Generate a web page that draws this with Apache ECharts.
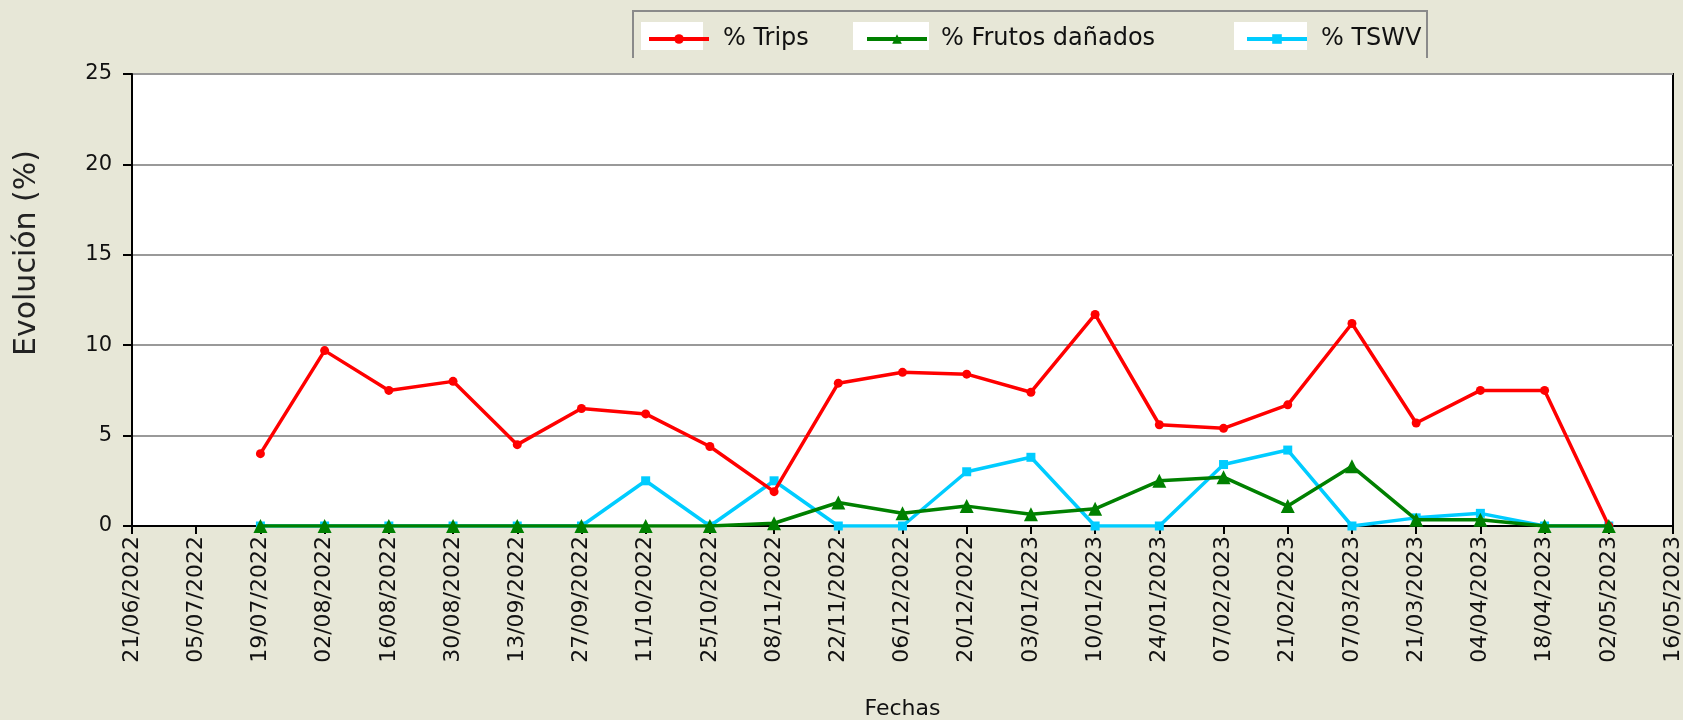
<!DOCTYPE html>
<html>
<head>
<meta charset="utf-8">
<script src="https://cdn.jsdelivr.net/npm/echarts@6/dist/echarts.min.js"></script>
<style>
html,body{margin:0;padding:0;background:#e7e7d7;}
#chart{width:1683px;height:720px;}
</style>
</head>
<body>
<div id="chart"></div>
<script>
const categories = ['21/06/2022','05/07/2022','19/07/2022','02/08/2022','16/08/2022','30/08/2022','13/09/2022','27/09/2022','11/10/2022','25/10/2022','08/11/2022','22/11/2022','06/12/2022','20/12/2022','03/01/2023','10/01/2023','24/01/2023','07/02/2023','21/02/2023','07/03/2023','21/03/2023','04/04/2023','18/04/2023','02/05/2023','16/05/2023'];
const trips = [null,null,4.0,9.7,7.5,8.0,4.5,6.5,6.2,4.4,1.9,7.9,8.5,8.4,7.4,11.7,5.6,5.4,6.7,11.2,5.7,7.5,7.5,0,null];
const frutos = [null,null,0,0,0,0,0,0,0,0,0.15,1.3,0.7,1.1,0.65,0.95,2.5,2.7,1.1,3.3,0.35,0.35,0,0,null];
const tswv = [null,null,0,0,0,0,0,0,2.5,0,2.5,0,0,3.0,3.8,0,0,3.4,4.2,0,0.45,0.7,0,0,null];
const yTicks = {min:0, max:25, interval:5};

const FONT = 'DejaVu Sans';
const chart = echarts.init(document.getElementById('chart'));
const legendCommon = {
  orient:'horizontal', itemWidth:60, itemHeight:12, top:22,
  lineStyle:{width:4},
  textStyle:{fontFamily:FONT, fontSize:24, color:'#111', padding:[0,0,0,9]},
  backgroundColor:'transparent'
};
chart.setOption({
  backgroundColor:'#e7e7d7',
  animation:false,
  graphic:[
    {type:'polyline', shape:{points:[[633,58],[633,11],[1427,11],[1427,58]]}, style:{stroke:'#8a8a8a', lineWidth:2, fill:null}, z:0},
    {type:'rect', shape:{x:641,y:22,width:62,height:28}, style:{fill:'#fff'}, z:0},
    {type:'rect', shape:{x:853,y:22,width:76,height:28}, style:{fill:'#fff'}, z:0},
    {type:'rect', shape:{x:1234,y:22,width:73,height:28}, style:{fill:'#fff'}, z:0}
  ],
  legend:[
    Object.assign({}, legendCommon, {left:642, data:['% Trips']}),
    Object.assign({}, legendCommon, {left:860, data:['% Frutos dañados']}),
    Object.assign({}, legendCommon, {left:1240, data:['% TSWV']})
  ],
  grid:{left:132, right:10, top:74, bottom:194, show:true, backgroundColor:'#ffffff', borderColor:'#000', borderWidth:2, containLabel:false, outerBoundsMode:'none'},
  xAxis:{
    type:'category', data:categories, boundaryGap:false,
    name:'Fechas', nameLocation:'middle', nameGap:172,
    nameTextStyle:{fontFamily:FONT, fontSize:22, color:'#111'},
    axisLine:{lineStyle:{color:'#000', width:2}},
    axisTick:{show:true, length:8, alignWithLabel:true, lineStyle:{color:'#000', width:2}},
    axisLabel:{rotate:90, interval:0, fontFamily:FONT, fontSize:22, color:'#111', margin:10},
    splitLine:{show:false}
  },
  yAxis:{
    type:'value', min:yTicks.min, max:yTicks.max, interval:yTicks.interval,
    name:'Evolución (%)', nameLocation:'middle', nameGap:90,
    nameTextStyle:{fontFamily:FONT, fontSize:30, color:'#222', padding:[0,0,0,94]},
    axisLine:{show:true, lineStyle:{color:'#000', width:2}},
    axisTick:{show:true, length:9, lineStyle:{color:'#000', width:2}},
    axisLabel:{fontFamily:FONT, fontSize:21, color:'#111', margin:20},
    splitLine:{show:true, lineStyle:{color:'#999', width:2}}
  },
  series:[
    {name:'% TSWV', type:'line', data:tswv, symbol:'rect', symbolSize:9,
     lineStyle:{color:'#00ccff', width:3.5}, itemStyle:{color:'#00ccff'}, z:2},
    {name:'% Trips', type:'line', data:trips, symbol:'circle', symbolSize:9,
     lineStyle:{color:'#ff0000', width:3.5}, itemStyle:{color:'#ff0000'}, z:3},
    {name:'% Frutos dañados', type:'line', data:frutos, symbol:'triangle', symbolSize:14,
     lineStyle:{color:'#008000', width:3.5}, itemStyle:{color:'#008000'}, z:4}
  ]
});
</script>
</body>
</html>
